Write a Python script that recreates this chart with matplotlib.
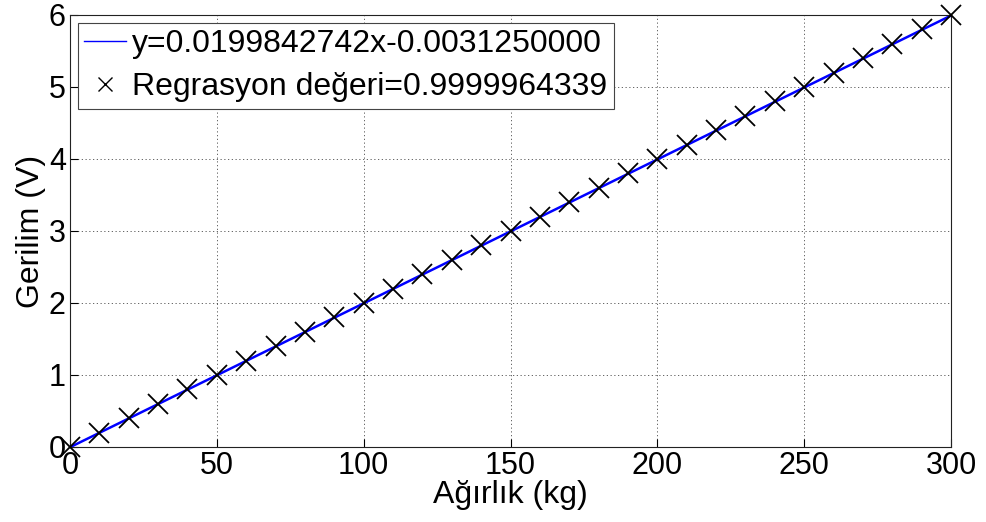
import matplotlib.pyplot as plt
import numpy as np

plt.rcParams['font.family'] = ['Liberation Sans', 'DejaVu Sans']

# olculen degerler
agirlik = [0, 10, 20, 30, 40, 50, 60, 70, 80, 90, 100, 110, 120, 130, 140, 150,
           160, 170, 180, 190, 200, 210, 220, 230, 240, 250, 260, 270, 280, 290, 300]
gerilim = [0.0, 0.2, 0.4, 0.6, 0.8, 1.0, 1.2, 1.4, 1.6, 1.8, 2.0, 2.2, 2.4, 2.6, 2.8, 3.0,
           3.2, 3.4, 3.6, 3.8, 4.0, 4.2, 4.4, 4.6, 4.8, 5.0, 5.2, 5.4, 5.6, 5.8, 6.0]
egim = 0.0199842742
kesisim = -0.0031250000
r_deger = 0.9999964339

x = np.array(agirlik, dtype=float)
fit = egim * x + kesisim

fig = plt.figure(figsize=(9.87, 5.22), dpi=100)
ax = fig.add_axes([70 / 987, 1 - 447 / 522, 881 / 987, 432 / 522])

ax.plot(x, fit, color='blue', lw=1.8,
        label='y=%.10fx%.10f' % (egim, kesisim))
ax.plot(agirlik, gerilim, 'x', color='black', ms=14, mew=1.3, linestyle='none',
        clip_on=False, zorder=5, label='Regrasyon değeri=%.10f' % r_deger)

ax.set_xlim(0, 300)
ax.set_ylim(0, 6)
ax.set_xticks(range(0, 301, 50))
ax.set_yticks(range(0, 7))
ax.grid(True, color='black', linestyle=(0, (1.5, 3)), linewidth=0.6, alpha=0.7)
ax.tick_params(direction='in', labelsize=22, length=6, pad=3)
for s in ax.spines.values():
    s.set_linewidth(0.8)
    s.set_color('#222222')

ax.set_xlabel('Ağırlık (kg)', fontsize=23, labelpad=-1)
ax.set_ylabel('Gerilim (V)', fontsize=23, labelpad=2)

leg = ax.legend(loc='upper left', fontsize=23, handlelength=1.3, handletextpad=0.2,
                borderpad=0.2, labelspacing=0.4, borderaxespad=0.25,
                fancybox=False, framealpha=1, edgecolor='#444444')
leg.get_frame().set_linewidth(0.8)
leg.legend_handles[0].set_linewidth(1.0)
leg.legend_handles[1].set_markersize(10)
leg.legend_handles[1].set_markeredgewidth(1.0)

fig.savefig('out.png', dpi=100)
